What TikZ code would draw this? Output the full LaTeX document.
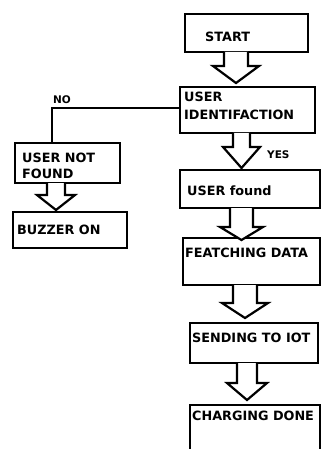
\documentclass[tikz,border=0pt]{standalone}
\usepackage{fontspec}
\setmainfont{DejaVu Sans}
\newcommand{\blkarrow}[6]{%
  \draw[blk] ({#1-#3},#2) -- ({#1-#3},#4) -- ({#1-#5},#4) -- (#1,#6) -- ({#1+#5},#4) -- ({#1+#3},#4) -- ({#1+#3},#2);}
\begin{document}
\begin{tikzpicture}[x=1pt,y=-1pt,
  box/.style={draw,line width=2.2pt,inner sep=0pt},
  blk/.style={draw,line width=2.2pt,fill=white,line join=miter},
  conn/.style={draw,line width=2pt},
  txt/.style={anchor=base west,inner sep=0pt,font=\fontsize{12.8}{15}\selectfont\bfseries},
  small/.style={anchor=base west,inner sep=0pt,font=\fontsize{10.5}{12}\selectfont\bfseries}]
\useasboundingbox (0,0) rectangle (321,449);
\fill[white] (0,0) rectangle (321,449);
\clip (0,0) rectangle (321,449);
% boxes
\node[box,minimum width=123pt,minimum height=38pt] (start) at (246.5,33) {};
\node[box,minimum width=135pt,minimum height=46pt] (uid) at (247.5,110) {};
\node[box,minimum width=105pt,minimum height=40pt] (unf) at (67.5,163) {};
\node[box,minimum width=114pt,minimum height=36pt] (buz) at (70,230) {};
\node[box,minimum width=140pt,minimum height=38pt] (uf) at (250,189) {};
\node[box,minimum width=137pt,minimum height=47pt] (fd) at (251.5,261.5) {};
\node[box,minimum width=128pt,minimum height=40pt] (sti) at (254,343) {};
\node[inner sep=0pt,minimum width=130pt,minimum height=65pt] (cd) at (255,437.5) {};
\draw[line width=2.2pt] (cd.south west) -- (cd.north west) -- (cd.north east) -- (cd.south east);
% texts
\node[txt] (tstart) at (205,42) {START};
\node[txt] (tuid1) at (184,102) {USER};
\node[txt] (tuid2) at (184,119.5) {IDENTIFACTION};
\node[txt] (tunf1) at (22,162) {USER NOT};
\node[txt] (tunf2) at (22,178) {FOUND};
\node[txt] (tbuz) at (17,234) {BUZZER ON};
\node[txt] (tuf) at (187,195) {USER found};
\node[txt] (tfd) at (185,257) {FEATCHING DATA};
\node[txt] (tsti) at (192,342) {SENDING TO IOT};
\node[txt] (tcd) at (192,420) {CHARGING DONE};
\node[small] (tno) at (53,104) {NO};
\node[small] (tyes) at (267,159) {YES};
% NO connector
\coordinate (nocorner) at (52,108);
\draw[conn] (uid.west |- nocorner) -- (nocorner) -- (nocorner |- unf.north);
% block arrows
\blkarrow{236}{52}{12}{66}{23}{83}
\blkarrow{241.5}{133}{8.5}{147}{18.5}{168}
\blkarrow{241.5}{208}{11.5}{227}{21.5}{240}
\blkarrow{245}{285}{12}{303}{23}{318}
\blkarrow{247}{363}{10}{383}{20}{400}
\blkarrow{56}{183}{9}{195}{19}{210}
\end{tikzpicture}
\end{document}
